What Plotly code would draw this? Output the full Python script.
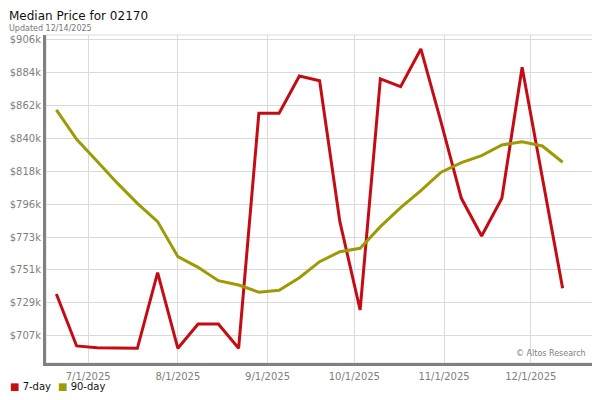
import datetime as dt
import plotly.graph_objects as go

# ---- data (values in $k) ----
start = dt.date(2025, 6, 20)
weeks = [start + dt.timedelta(days=7 * i) for i in range(26)]

seven_day = [735.1, 700.1, 698.9, 698.9, 698.5, 749.5, 698.5, 714.9, 714.9, 698.5,
             856.9, 856.9, 882.1, 878.9, 783.9, 724.3, 880.1, 874.9, 900.3, 850.8,
             799.6, 774.2, 799.6, 888.0, 813.5, 739.0]
ninety_day = [859.2, 839.4, 824.8, 810.0, 796.2, 783.9, 760.3, 753.1, 744.1, 741.2,
              736.3, 737.6, 746.1, 756.9, 763.6, 765.9, 780.5, 793.3, 804.8, 817.2,
              823.7, 828.4, 835.6, 837.8, 834.9, 823.9]

y_tick_vals = [707 + 22.15 * k for k in range(10)]
y_tick_text = ["$707k", "$729k", "$751k", "$773k", "$796k", "$818k", "$840k",
               "$862k", "$884k", "$906k"]
x_tick_vals = ["2025-07-01", "2025-08-01", "2025-09-01", "2025-10-01", "2025-11-01", "2025-12-01"]
x_tick_text = ["7/1/2025", "8/1/2025", "9/1/2025", "10/1/2025", "11/1/2025", "12/1/2025"]

series_names = ["7-day", "90-day"]
series_colors = ["#c40c14", "#9e9a05"]

FONT = "DejaVu Sans"
PW, PH = 547, 328  # plot area size in px

fig = go.Figure()
for name, vals, col in zip(series_names, [seven_day, ninety_day], series_colors):
    fig.add_trace(go.Scatter(x=weeks, y=vals, mode="lines", name=name,
                             line=dict(color=col, width=3), showlegend=False))

fig.update_layout(
    width=592, height=392,
    margin=dict(l=38, r=7, t=27, b=37, autoexpand=False),
    paper_bgcolor="white", plot_bgcolor="white",
    font=dict(family=FONT, size=10, color="#777777"),
    showlegend=False,
    xaxis=dict(
        type="date",
        range=["2025-06-16 10:00", "2025-12-22 12:00"],
        tickvals=x_tick_vals, ticktext=x_tick_text,
        showgrid=True, gridcolor="#dadada", gridwidth=1,
        showline=True, linecolor="#808080", linewidth=3,
        ticks="", tickfont=dict(size=10, color="#808080"),
        zeroline=False, automargin=False, ticklabelstandoff=2,
    ),
    yaxis=dict(
        range=[688.6, 909.7],
        tickvals=y_tick_vals, ticktext=y_tick_text,
        showgrid=True, gridcolor="#dadada", gridwidth=1,
        showline=True, linecolor="#808080", linewidth=3,
        ticks="", tickfont=dict(size=10, color="#808080"),
        zeroline=False, automargin=False, ticklabelstandoff=0,
    ),
)

# plot border (top/right)
fig.add_shape(type="rect", xref="paper", yref="paper", x0=0, y0=0, x1=1, y1=1,
              line=dict(color="#dadada", width=1), layer="below")

# title and subtitle
fig.add_annotation(text="Median Price for 02170", xref="paper", yref="paper",
                   x=-38 / PW, y=1 + 27 / PH, xanchor="left", yanchor="top",
                   borderpad=0, showarrow=False,
                   font=dict(family=FONT, size=12, color="#111111"))
fig.add_annotation(text="Updated 12/14/2025", xref="paper", yref="paper",
                   x=-38 / PW, y=1 + 6 / PH, xanchor="left", yanchor="middle",
                   borderpad=0, showarrow=False,
                   font=dict(family=FONT, size=8, color="#777777"))

# watermark
fig.add_annotation(text="© Altos Research", xref="paper", yref="paper",
                   x=0.99, y=0.03, xanchor="right", yanchor="middle",
                   showarrow=False, font=dict(family=FONT, size=8, color="#808080"))

# legend (custom, compact)
leg_x = [-38 / PW, 10 / PW]
for name, col, lx in zip(series_names, series_colors, leg_x):
    fig.add_annotation(text=f"<span style='color:{col}'>■</span> {name}",
                       xref="paper", yref="paper", x=lx, y=-23 / PH,
                       xanchor="left", yanchor="middle", showarrow=False,
                       font=dict(family=FONT, size=10, color="#111111"))

fig.write_html("out.html")
